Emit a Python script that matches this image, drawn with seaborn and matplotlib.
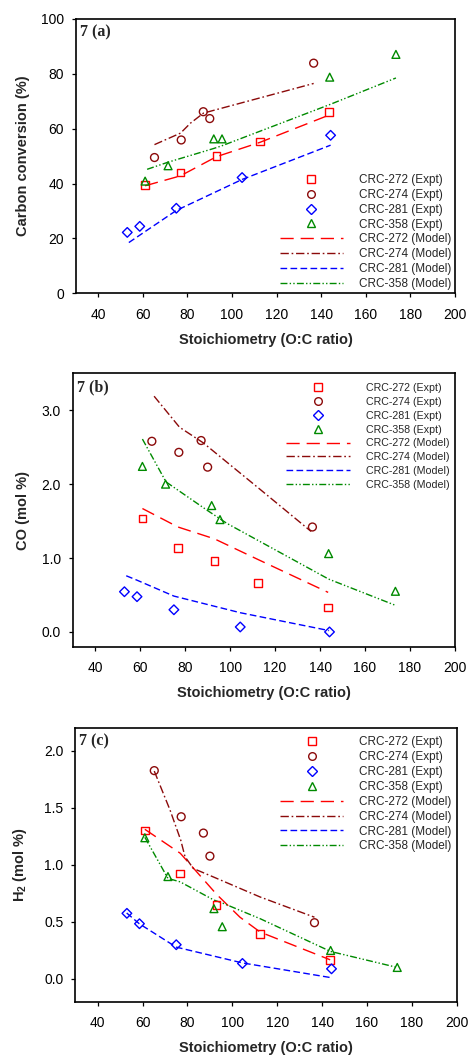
import numpy as np
import pandas as pd
import matplotlib
matplotlib.use("Agg")
import matplotlib.pyplot as plt
from matplotlib.lines import Line2D
import seaborn as sns

# ---------------- data ----------------
series = ["CRC-272", "CRC-274", "CRC-281", "CRC-358"]

# experimental stoichiometry (O:C ratio)
x272 = [61.0, 76.8, 93.0, 112.4, 143.6]
x274 = [65.2, 77.2, 87.1, 90.0, 136.6]
x281 = [53.0, 58.6, 75.0, 104.5, 144.2]
x358 = [61.0, 71.3, 91.8, 95.5, 143.8, 173.5]

# (a) carbon conversion (%)
a272 = [39.4, 44.0, 50.0, 55.4, 66.0]
a274 = [49.5, 55.9, 66.2, 63.7, 83.9]
a281 = [22.2, 24.4, 31.0, 42.2, 57.6]
a358 = [40.9, 46.5, 56.3, 56.3, 78.8, 87.1]
ma272_x = [61.0, 76.8, 93.0, 112.4, 143.6]
ma272_y = [39.2, 42.8, 49.8, 55.0, 65.0]
ma274_x = [65.2, 76.9, 81.3, 87.2, 136.6]
ma274_y = [54.2, 58.4, 62.0, 65.7, 76.5]
ma281_x = [53.7, 75.0, 104.5, 144.2]
ma281_y = [18.5, 30.2, 41.5, 54.0]
ma358_x = [61.9, 71.3, 91.8, 95.5, 143.8, 173.5]
ma358_y = [45.2, 47.8, 52.8, 53.8, 68.8, 78.5]

# (b) CO (mol %)
b272 = [1.534, 1.138, 0.963, 0.661, 0.333]
b274 = [2.58, 2.43, 2.59, 2.23, 1.42]
b281 = [0.544, 0.477, 0.30, 0.067, 0.0]
b358 = [2.24, 2.00, 1.71, 1.52, 1.06, 0.55]
mb272_x = [61.0, 76.8, 93.0, 112.4, 143.6]
mb272_y = [1.67, 1.42, 1.26, 0.98, 0.535]
mb274_x = [66.2, 77.5, 88.0, 113.3, 136.0]
mb274_y = [3.19, 2.77, 2.56, 1.93, 1.36]
mb281_x = [53.8, 58.6, 75.0, 104.5, 144.0]
mb281_y = [0.76, 0.70, 0.485, 0.26, 0.018]
mb358_x = [61.0, 71.5, 89.6, 98.5, 143.8, 173.5]
mb358_y = [2.61, 2.03, 1.65, 1.47, 0.715, 0.36]

# (c) H2 (mol %)
c272 = [1.30, 0.922, 0.647, 0.395, 0.167]
c274 = [1.824, 1.42, 1.277, 1.075, 0.492]
c281 = [0.574, 0.483, 0.299, 0.135, 0.088]
c358 = [1.236, 0.896, 0.615, 0.457, 0.249, 0.10]
mc272_x = [61.0, 76.8, 93.0, 103.4, 112.4, 143.6]
mc272_y = [1.31, 1.10, 0.74, 0.54, 0.41, 0.167]
mc274_x = [65.2, 72.2, 77.0, 78.9, 82.6, 91.5, 112.4, 136.6]
mc274_y = [1.82, 1.48, 1.215, 1.07, 0.967, 0.893, 0.717, 0.54]
mc281_x = [52.9, 58.5, 75.0, 104.4, 144.2]
mc281_y = [0.577, 0.483, 0.278, 0.14, 0.01]
mc358_x = [61.0, 71.3, 76.7, 91.8, 95.5, 112.4, 143.8, 173.5]
mc358_y = [1.24, 0.88, 0.85, 0.69, 0.665, 0.527, 0.24, 0.10]

panel_labels = ["7 (a)", "7 (b)", "7 (c)"]
y_labels = ["Carbon conversion (%)", "CO (mol %)", "H$_\\mathbf{2}$ (mol %)"]
x_label = "Stoichiometry (O:C ratio)"
x_ticks = [40, 60, 80, 100, 120, 140, 160, 180, 200]
y_ticks_a = [0, 20, 40, 60, 80, 100]
y_ticks_b = [0.0, 1.0, 2.0, 3.0]
y_ticks_c = [0.0, 0.5, 1.0, 1.5, 2.0]

# ---------------- style ----------------
sns.set_theme(style="white")
plt.rcParams["font.family"] = ["Liberation Sans", "DejaVu Sans"]
plt.rcParams["mathtext.fontset"] = "custom"
plt.rcParams["mathtext.rm"] = "Liberation Sans"
plt.rcParams["mathtext.bf"] = "Liberation Sans:bold"

colors = {"CRC-272": "#ff0000", "CRC-274": "#8b0a0a", "CRC-281": "#0000ff", "CRC-358": "#008a00"}
markers = {"CRC-272": "s", "CRC-274": "o", "CRC-281": "D", "CRC-358": "^"}
msizes = {"CRC-272": 30, "CRC-274": 32, "CRC-281": 24, "CRC-358": 32}
dashes = {"CRC-272": (9.5, 5.0),
          "CRC-274": (6.0, 2.0, 1.2, 2.0),
          "CRC-281": (4.8, 2.4),
          "CRC-358": (5.0, 1.6, 1.0, 1.6, 1.0, 1.6)}

fig = plt.figure(figsize=(4.7, 10.55), dpi=100)
rects = [
    [76 / 470, 1 - 293.3 / 1055, 379 / 470, 274.3 / 1055],
    [72.7 / 470, 1 - 646.7 / 1055, 382.3 / 470, 273.4 / 1055],
    [75.3 / 470, 1 - 1001.7 / 1055, 381.4 / 470, 274 / 1055],
]
ylims = [(0, 100), (-0.2, 3.5), (-0.2, 2.2)]
yticks = [y_ticks_a, y_ticks_b, y_ticks_c]
ylab_x = [-0.121, -0.112, -0.121]
leg_anchor = [(0.538, 0.434), (0.558, 0.964), (0.537, 0.969)]
leg_fs = [8.5, 7.7, 8.5]
leg_hl = [5.35, 6.0, 5.35]
leg_tp = [1.36, 1.47, 1.36]
leg_ls = [0.236, 0.356, 0.245]
ytick_fmt = ["{:.0f}", "{:.1f}", "{:.1f}"]

expt = [
    {"CRC-272": (x272, a272), "CRC-274": (x274, a274), "CRC-281": (x281, a281), "CRC-358": (x358, a358)},
    {"CRC-272": (x272, b272), "CRC-274": (x274, b274), "CRC-281": (x281, b281), "CRC-358": (x358, b358)},
    {"CRC-272": (x272, c272), "CRC-274": (x274, c274), "CRC-281": (x281, c281), "CRC-358": (x358, c358)},
]
model = [
    {"CRC-272": (ma272_x, ma272_y), "CRC-274": (ma274_x, ma274_y), "CRC-281": (ma281_x, ma281_y), "CRC-358": (ma358_x, ma358_y)},
    {"CRC-272": (mb272_x, mb272_y), "CRC-274": (mb274_x, mb274_y), "CRC-281": (mb281_x, mb281_y), "CRC-358": (mb358_x, mb358_y)},
    {"CRC-272": (mc272_x, mc272_y), "CRC-274": (mc274_x, mc274_y), "CRC-281": (mc281_x, mc281_y), "CRC-358": (mc358_x, mc358_y)},
]

for i in range(3):
    ax = fig.add_axes(rects[i])
    # model lines
    for s in series:
        mx, my = model[i][s]
        sns.lineplot(x=mx, y=my, ax=ax, color=colors[s], sort=False, estimator=None,
                     linewidth=1.0, linestyle=(0, dashes[s]), legend=False)
    # experimental points
    for s in series:
        ex, ey = expt[i][s]
        sns.scatterplot(x=ex, y=ey, ax=ax, marker=markers[s], s=msizes[s],
                        color=colors[s], facecolor="none", edgecolor=colors[s],
                        linewidth=1.0, legend=False, zorder=5)
    ax.set_xlim(30, 200)
    ax.set_ylim(*ylims[i])
    ax.set_xticks(x_ticks)
    ax.set_xticklabels([str(t) for t in x_ticks])
    ax.set_yticks(yticks[i])
    ax.set_yticklabels([ytick_fmt[i].format(t) for t in yticks[i]])
    ax.tick_params(axis="both", which="major", direction="out", length=3, width=0.9,
                   labelsize=10, colors="black", bottom=True, left=True,
                   top=False, right=False)
    ax.tick_params(axis="x", pad=7.5)
    ax.tick_params(axis="y", pad=5.5)
    for sp in ax.spines.values():
        sp.set_color("black")
        sp.set_linewidth(1.2)
        sp.set_visible(True)
    ax.set_facecolor("white")
    ax.grid(False)
    ax.set_xlabel(x_label, fontsize=10.5, fontweight="bold")
    ax.set_ylabel(y_labels[i], fontsize=10.5, fontweight="bold")
    ax.xaxis.set_label_coords(0.5, -0.143)
    ax.yaxis.set_label_coords(ylab_x[i], 0.5)
    ax.text(0.011, 0.950, panel_labels[i], transform=ax.transAxes, ha="left", va="center",
            fontsize=11.5, fontweight="bold", family=["Liberation Serif", "DejaVu Serif"])

    handles, labels = [], []
    for s in series:
        handles.append(Line2D([], [], ls="none", marker=markers[s], mfc="none", mec=colors[s],
                              mew=1.0, ms=5.5 if markers[s] != "D" else 4.9))
        labels.append(f"{s} (Expt)")
    for s in series:
        handles.append(Line2D([], [], color=colors[s], lw=1.0, linestyle=(0, dashes[s])))
        labels.append(f"{s} (Model)")
    ax.legend(handles, labels, loc="upper left", bbox_to_anchor=leg_anchor[i],
              bbox_transform=ax.transAxes, frameon=False, fontsize=leg_fs[i],
              handlelength=leg_hl[i], handletextpad=leg_tp[i], labelspacing=leg_ls[i],
              borderpad=0, borderaxespad=0)

fig.savefig("out.png", dpi=100, facecolor="white")
